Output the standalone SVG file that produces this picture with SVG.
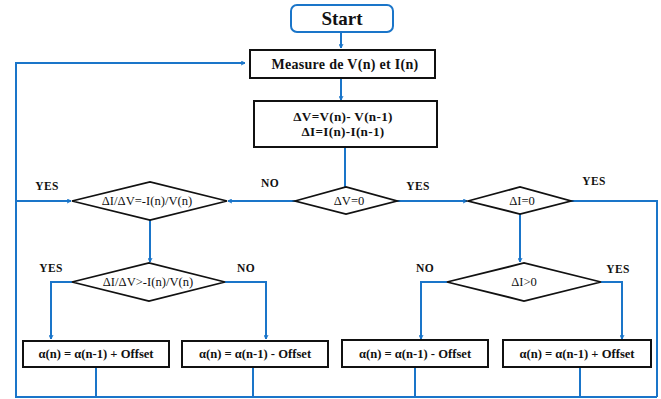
<svg xmlns="http://www.w3.org/2000/svg" width="661" height="399" viewBox="0 0 661 399">
<defs>
<marker id="arr" viewBox="0 0 10 10" refX="9" refY="5" markerWidth="5" markerHeight="5" orient="auto" markerUnits="userSpaceOnUse">
<path d="M1,1 L9,5 L1,9" fill="none" stroke="#1a75c9" stroke-width="2"/>
</marker>
</defs>
<style>
.box{fill:#fff;stroke:#111;stroke-width:2}
.dia{fill:#fff;stroke:#111;stroke-width:1.8}
.c{fill:none;stroke:#1a75c9;stroke-width:2}
.ca{fill:none;stroke:#1a75c9;stroke-width:2;marker-end:url(#arr)}
text{font-family:'Liberation Serif','Times New Roman',serif;fill:#111;text-anchor:middle}
.tb{font-weight:bold;font-size:14px;letter-spacing:0.3px}
.td{font-weight:bold;font-size:13.2px;letter-spacing:0.3px}
.tx{font-weight:bold;font-size:12.6px}
.tr{font-size:12.6px}
.lb{font-weight:bold;font-size:11.5px;letter-spacing:0.4px}
</style>
<rect width="661" height="399" fill="#fff"/>
<g id="connectors">
<path class="ca" d="M341,32 V48"/>
<path class="ca" d="M341,78 V100"/>
<path class="c" d="M345,147 V187"/>
<path class="ca" d="M295,201 H228"/>
<path class="ca" d="M397,201 H467"/>
<path class="ca" d="M16,201 H71"/>
<path class="ca" d="M150,220 V262"/>
<path class="ca" d="M520,214 V262"/>
<path class="ca" d="M72,282 H51 V339"/>
<path class="ca" d="M225,282 H266 V339"/>
<path class="ca" d="M447,282 H421 V339"/>
<path class="ca" d="M601,282 H622 V339"/>
<path class="c" d="M571,201 H657 V397"/>
<path class="c" d="M96,367 V397"/>
<path class="c" d="M253,367 V397"/>
<path class="c" d="M415,367 V397"/>
<path class="c" d="M580,367 V397"/>
<path class="ca" d="M657,397 H16 V63 H245"/>
<text class="lb" x="47" y="190">YES</text>
<text class="lb" x="270" y="187">NO</text>
<text class="lb" x="418" y="190">YES</text>
<text class="lb" x="594" y="185">YES</text>
<text class="lb" x="51" y="272">YES</text>
<text class="lb" x="246" y="272">NO</text>
<text class="lb" x="425" y="272">NO</text>
<text class="lb" x="618" y="273">YES</text>
</g>
<g id="start">
<rect x="291" y="5" width="102" height="27" rx="6" fill="#fff" stroke="#1a75c9" stroke-width="2"/>
<text x="342" y="25" style="font-size:19px;font-weight:bold">Start</text>
</g>
<g id="measure">
<rect class="box" x="250" y="50" width="185" height="28"/>
<text class="tb" x="345" y="69">Measure de V(n) et I(n)</text>
</g>
<g id="delta">
<rect class="box" x="254" y="101" width="183" height="46"/>
<text class="td" x="343" y="121">ΔV=V(n)- V(n-1)</text>
<text class="td" x="343" y="136">ΔI=I(n)-I(n-1)</text>
</g>
<g id="dv0">
<polygon class="dia" points="295,201 346,187 397,201 346,214"/>
<text class="tr" x="349" y="205">ΔV=0</text>
</g>
<g id="dieq">
<polygon class="dia" points="72,201 150,182 227,201 150,220"/>
<text class="tr" x="147" y="205">ΔI/ΔV=-I(n)/V(n)</text>
</g>
<g id="digt">
<polygon class="dia" points="72,282 149,263 225,282 149,301"/>
<text class="tr" x="148" y="286">ΔI/ΔV&gt;-I(n)/V(n)</text>
</g>
<g id="di0">
<polygon class="dia" points="468,201 520,187 571,201 520,214"/>
<text class="tr" x="522" y="205">ΔI=0</text>
</g>
<g id="dipos">
<polygon class="dia" points="447,282 524,263 601,282 524,301"/>
<text class="tr" x="524" y="286">ΔI&gt;0</text>
</g>
<g id="box1">
<rect class="box" x="23" y="341" width="146" height="26"/>
<text class="tx" x="96" y="358">α(n) = α(n-1) + Offset</text>
</g>
<g id="box2">
<rect class="box" x="182" y="341" width="146" height="26"/>
<text class="tx" x="255" y="358">α(n) = α(n-1) - Offset</text>
</g>
<g id="box3">
<rect class="box" x="342" y="340" width="146" height="27"/>
<text class="tx" x="415" y="358">α(n) = α(n-1) - Offset</text>
</g>
<g id="box4">
<rect class="box" x="503" y="340" width="148" height="27"/>
<text class="tx" x="577" y="358">α(n) = α(n-1) + Offset</text>
</g>
</svg>
